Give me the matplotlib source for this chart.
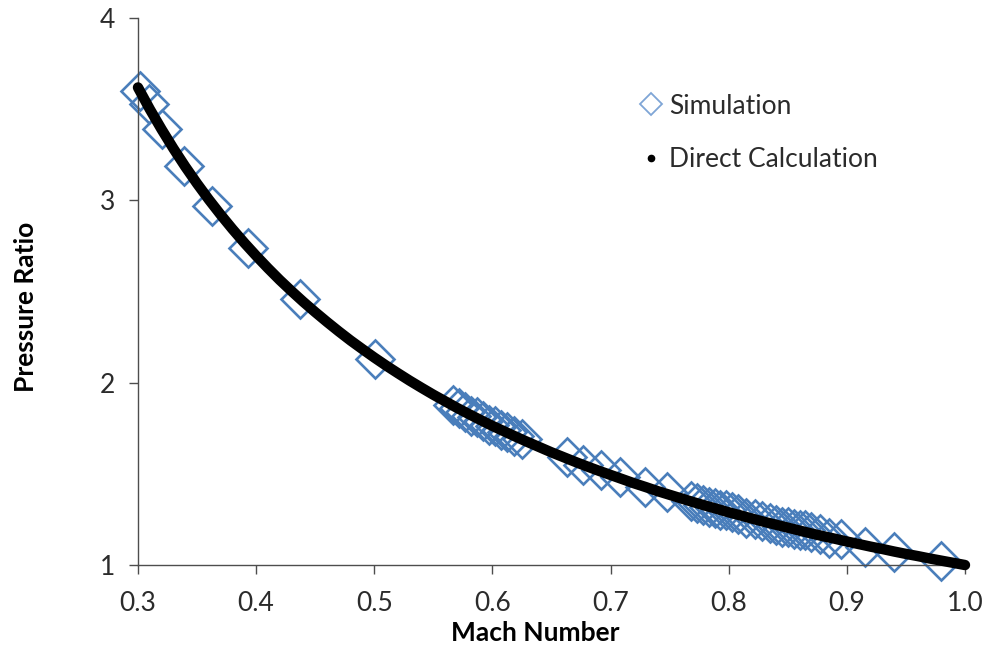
import matplotlib.pyplot as plt
from matplotlib.lines import Line2D

########## Data
# Direct calculation (black curve)
calc_mach = [0.30, 0.31, 0.32, 0.33, 0.34, 0.35, 0.36, 0.37, 0.38, 0.39,
             0.40, 0.41, 0.42, 0.43, 0.44, 0.45, 0.46, 0.47, 0.48, 0.49,
             0.50, 0.51, 0.52, 0.53, 0.54, 0.55, 0.56, 0.57, 0.58, 0.59,
             0.60, 0.61, 0.62, 0.63, 0.64, 0.65, 0.66, 0.67, 0.68, 0.69,
             0.70, 0.71, 0.72, 0.73, 0.74, 0.75, 0.76, 0.77, 0.78, 0.79,
             0.80, 0.81, 0.82, 0.83, 0.84, 0.85, 0.86, 0.87, 0.88, 0.89,
             0.90, 0.91, 0.92, 0.93, 0.94, 0.95, 0.96, 0.97, 0.98, 0.99, 1.00]
calc_ratio = [3.619, 3.500, 3.389, 3.284, 3.185, 3.092, 3.004, 2.921, 2.842, 2.767,
              2.696, 2.628, 2.563, 2.502, 2.443, 2.387, 2.333, 2.281, 2.231, 2.184,
              2.138, 2.094, 2.052, 2.011, 1.972, 1.934, 1.898, 1.862, 1.828, 1.795,
              1.763, 1.733, 1.703, 1.674, 1.646, 1.618, 1.592, 1.566, 1.541, 1.517,
              1.494, 1.471, 1.448, 1.427, 1.405, 1.385, 1.365, 1.345, 1.326, 1.308,
              1.289, 1.272, 1.254, 1.237, 1.221, 1.205, 1.189, 1.173, 1.158, 1.144,
              1.129, 1.115, 1.101, 1.088, 1.074, 1.061, 1.049, 1.036, 1.024, 1.012, 1.000]

# Simulation (blue diamonds)
sim_mach = [0.302, 0.309, 0.320, 0.339, 0.363, 0.393, 0.437, 0.501,
            0.567, 0.572, 0.577, 0.582, 0.587, 0.592, 0.597, 0.602, 0.607, 0.612, 0.618, 0.625,
            0.663, 0.677, 0.692, 0.708, 0.729, 0.748,
            0.768, 0.773, 0.778, 0.783, 0.788, 0.793, 0.798, 0.803, 0.808, 0.815, 0.822,
            0.828, 0.835, 0.840, 0.845, 0.850, 0.855, 0.860, 0.865, 0.870, 0.877, 0.885,
            0.895, 0.915, 0.940, 0.980]
sim_ratio = [3.60, 3.53, 3.39, 3.19, 2.97, 2.74, 2.46, 2.13,
             1.88, 1.86, 1.84, 1.82, 1.81, 1.79, 1.77, 1.76, 1.74, 1.73, 1.71, 1.69,
             1.59, 1.55, 1.52, 1.48, 1.43, 1.40,
             1.35, 1.34, 1.33, 1.32, 1.31, 1.30, 1.30, 1.29, 1.28, 1.26, 1.25,
             1.24, 1.23, 1.22, 1.21, 1.21, 1.20, 1.19, 1.19, 1.18, 1.17, 1.15,
             1.14, 1.10, 1.07, 1.02]

x_ticks = [0.3, 0.4, 0.5, 0.6, 0.7, 0.8, 0.9, 1.0]
y_ticks = [1, 2, 3, 4]

########## Style
plt.rcParams['font.family'] = ['Lato', 'DejaVu Sans']
blue = '#4a7ebb'
text_col = '#2b2b2b'
axis_col = '#4d4d4d'
fs = 19

fig = plt.figure(figsize=(9.87, 6.47), dpi=100)
ax = fig.add_axes([0.1398, 0.1267, 0.8379, 0.8455])

ax.plot(sim_mach, sim_ratio, linestyle='none', marker='D', markersize=19.5,
        markerfacecolor='none', markeredgecolor=blue, markeredgewidth=1.9,
        clip_on=False, zorder=2)
ax.plot(calc_mach, calc_ratio, color='black', linewidth=7.5,
        solid_capstyle='round', clip_on=False, zorder=3)

ax.set_xlim(0.3, 1.0)
ax.set_ylim(1, 4)
ax.set_xticks(x_ticks)
ax.set_xticklabels([f'{t:.1f}' for t in x_ticks])
ax.set_yticks(y_ticks)

for s in ['top', 'right']:
    ax.spines[s].set_visible(False)
for s in ['left', 'bottom']:
    ax.spines[s].set_color(axis_col)
    ax.spines[s].set_linewidth(1.0)

ax.tick_params(axis='both', direction='out', length=6.5, width=1.0,
               color=axis_col, labelsize=fs, labelcolor=text_col)
ax.tick_params(axis='x', pad=12)
ax.tick_params(axis='y', pad=10)

ax.set_xlabel('Mach Number', fontsize=fs, fontweight='bold', color='black')
ax.set_ylabel('Pressure Ratio', fontsize=fs, fontweight='bold', color='black')
ax.xaxis.set_label_coords(0.48, -0.102)
ax.yaxis.set_label_coords(-0.121, 0.472)

# Legend
handles = [Line2D([], [], linestyle='none', marker='D', markersize=11,
                  markerfacecolor='none', markeredgecolor='#7fa5d6', markeredgewidth=1.3),
           Line2D([], [], linestyle='none', marker='o', markersize=4.5,
                  markerfacecolor='black', markeredgecolor='black')]
ax.legend(handles, ['Simulation', 'Direct Calculation'], loc='upper left',
          bbox_to_anchor=(0.58, 0.905), frameon=False, fontsize=fs,
          handlelength=0.7, handletextpad=0.35, labelspacing=1.08,
          labelcolor=text_col)

fig.savefig('out.png', dpi=100)
